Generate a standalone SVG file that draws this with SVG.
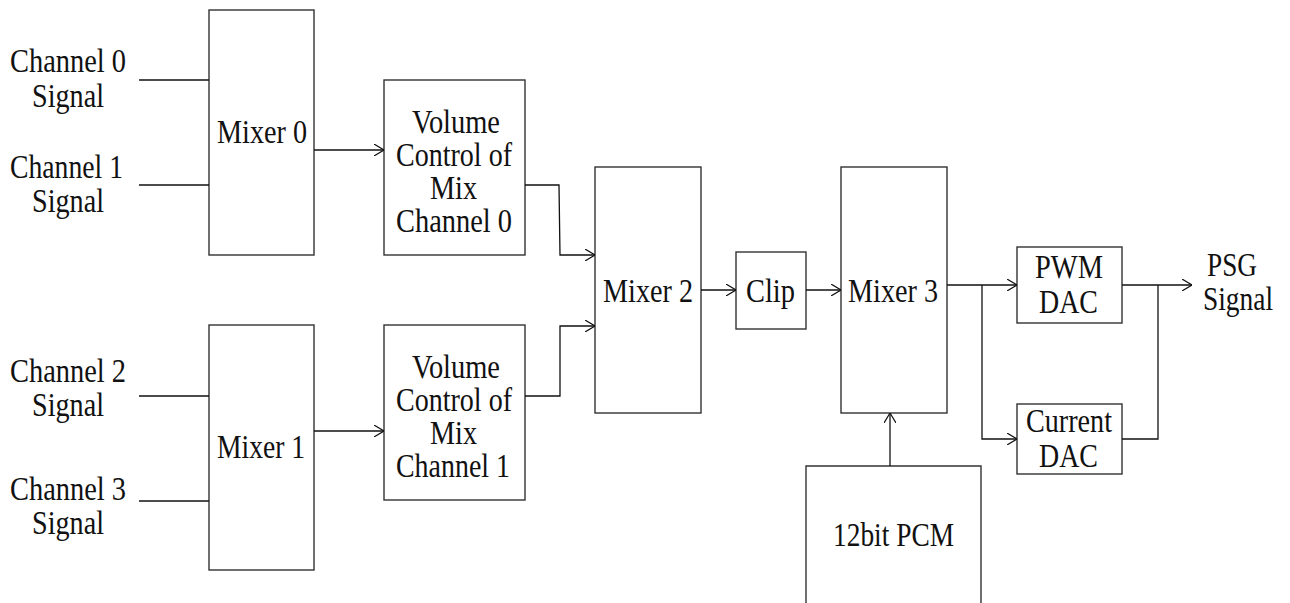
<svg xmlns="http://www.w3.org/2000/svg" width="1290" height="603" viewBox="0 0 1290 603">
<style>
.box{fill:#fff;stroke:#333;stroke-width:1.4}
.ln{fill:none;stroke:#111;stroke-width:1.3}
text{font-family:"Liberation Serif","Times New Roman",serif;font-size:33px;fill:#111}
</style>
<defs>
<marker id="arr" viewBox="0 0 10 12" refX="10" refY="6" markerWidth="10" markerHeight="12" markerUnits="userSpaceOnUse" orient="auto">
<path d="M0,0 L10,6 L0,12" fill="none" stroke="#111" stroke-width="1.2"/>
</marker>
</defs>
<rect width="1290" height="603" fill="#fff"/>
<g id="inputs">
<text x="10" y="72" textLength="116" lengthAdjust="spacingAndGlyphs">Channel 0</text>
<text x="32" y="107" textLength="72" lengthAdjust="spacingAndGlyphs">Signal</text>
<text x="10" y="178" textLength="113" lengthAdjust="spacingAndGlyphs">Channel 1</text>
<text x="32" y="212" textLength="72" lengthAdjust="spacingAndGlyphs">Signal</text>
<text x="10" y="382" textLength="116" lengthAdjust="spacingAndGlyphs">Channel 2</text>
<text x="32" y="416" textLength="72" lengthAdjust="spacingAndGlyphs">Signal</text>
<text x="10" y="500" textLength="116" lengthAdjust="spacingAndGlyphs">Channel 3</text>
<text x="32" y="534" textLength="72" lengthAdjust="spacingAndGlyphs">Signal</text>
</g>
<g id="mixer0">
<rect class="box" x="209" y="10" width="105" height="245"/>
<text x="217" y="143" textLength="90" lengthAdjust="spacingAndGlyphs">Mixer 0</text>
</g>
<g id="mixer1">
<rect class="box" x="209" y="325" width="105" height="245"/>
<text x="217" y="458" textLength="88" lengthAdjust="spacingAndGlyphs">Mixer 1</text>
</g>
<g id="vc0">
<rect class="box" x="384" y="80" width="141" height="175"/>
<text x="412" y="133" textLength="88" lengthAdjust="spacingAndGlyphs">Volume</text>
<text x="396" y="166" textLength="116" lengthAdjust="spacingAndGlyphs">Control of</text>
<text x="430" y="199" textLength="47" lengthAdjust="spacingAndGlyphs">Mix</text>
<text x="396" y="232" textLength="116" lengthAdjust="spacingAndGlyphs">Channel 0</text>
</g>
<g id="vc1">
<rect class="box" x="384" y="325" width="141" height="175"/>
<text x="412" y="378" textLength="88" lengthAdjust="spacingAndGlyphs">Volume</text>
<text x="396" y="411" textLength="116" lengthAdjust="spacingAndGlyphs">Control of</text>
<text x="430" y="444" textLength="47" lengthAdjust="spacingAndGlyphs">Mix</text>
<text x="396" y="477" textLength="114" lengthAdjust="spacingAndGlyphs">Channel 1</text>
</g>
<g id="mixer2">
<rect class="box" x="595" y="167" width="106" height="246"/>
<text x="603" y="302" textLength="90" lengthAdjust="spacingAndGlyphs">Mixer 2</text>
</g>
<g id="clip">
<rect class="box" x="736" y="252" width="70" height="77"/>
<text x="746" y="302" textLength="49" lengthAdjust="spacingAndGlyphs">Clip</text>
</g>
<g id="mixer3">
<rect class="box" x="841" y="167" width="106" height="246"/>
<text x="848" y="302" textLength="90" lengthAdjust="spacingAndGlyphs">Mixer 3</text>
</g>
<g id="pwmdac">
<rect class="box" x="1017" y="247" width="105" height="76"/>
<text x="1035" y="278" textLength="68" lengthAdjust="spacingAndGlyphs">PWM</text>
<text x="1039" y="313" textLength="59" lengthAdjust="spacingAndGlyphs">DAC</text>
</g>
<g id="currentdac">
<rect class="box" x="1017" y="404" width="105" height="70"/>
<text x="1026" y="432" textLength="86" lengthAdjust="spacingAndGlyphs">Current</text>
<text x="1039" y="467" textLength="59" lengthAdjust="spacingAndGlyphs">DAC</text>
</g>
<g id="pcm">
<path class="box" d="M806,604 L806,466 L981,466 L981,604"/>
<text x="833" y="546" textLength="121" lengthAdjust="spacingAndGlyphs">12bit PCM</text>
</g>
<g id="output">
<text x="1207" y="276" textLength="50" lengthAdjust="spacingAndGlyphs">PSG</text>
<text x="1203" y="310" textLength="70" lengthAdjust="spacingAndGlyphs">Signal</text>
</g>
<g id="connectors">
<line class="ln" x1="139" y1="80" x2="209" y2="80"/>
<line class="ln" x1="139" y1="185" x2="209" y2="185"/>
<line class="ln" x1="139" y1="396" x2="209" y2="396"/>
<line class="ln" x1="139" y1="501" x2="209" y2="501"/>
<line class="ln" x1="314" y1="150" x2="384" y2="150" marker-end="url(#arr)"/>
<line class="ln" x1="314" y1="431" x2="384" y2="431" marker-end="url(#arr)"/>
<polyline class="ln" points="525,185 559,185 560,255 595,255" marker-end="url(#arr)"/>
<polyline class="ln" points="525,396 560,396 560,326 595,326" marker-end="url(#arr)"/>
<line class="ln" x1="701" y1="290" x2="736" y2="290" marker-end="url(#arr)"/>
<line class="ln" x1="806" y1="290" x2="841" y2="290" marker-end="url(#arr)"/>
<line class="ln" x1="947" y1="285" x2="1017" y2="285" marker-end="url(#arr)"/>
<polyline class="ln" points="982,285 982,439 1017,439" marker-end="url(#arr)"/>
<line class="ln" x1="1122" y1="285" x2="1192" y2="285" marker-end="url(#arr)"/>
<polyline class="ln" points="1122,439 1158,439 1158,285"/>
<line class="ln" x1="890" y1="466" x2="890" y2="413" marker-end="url(#arr)"/>
</g>
</svg>
